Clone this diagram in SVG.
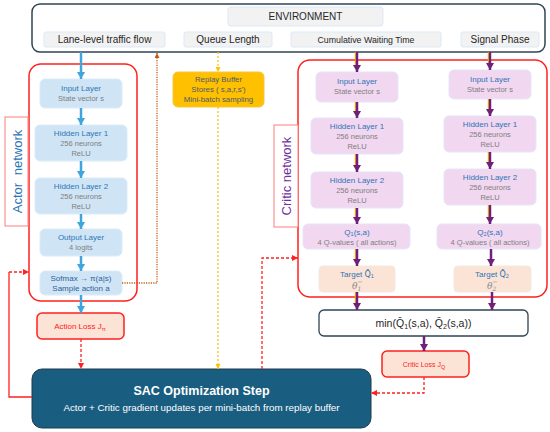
<svg xmlns="http://www.w3.org/2000/svg" width="550" height="432" viewBox="0 0 550 432">
<style>
text{font-family:"Liberation Sans",Arial,sans-serif}
.lbl{fill:#f2f2f2;stroke:#dbe9f6;stroke-width:1}
.lt{font-size:10px;fill:#262626;text-anchor:middle}
.ab{fill:#cfe5f5;stroke:#dcecf8;stroke-width:1}
.cb{fill:#f2d7f0;stroke:#e3e6f8;stroke-width:1}
.tb{fill:#fbe4d5;stroke:#f3e8e0;stroke-width:1}
.t1{font-size:8px;fill:#2e75b6;text-anchor:middle}
.t2{font-size:7.5px;fill:#808080;text-anchor:middle}
.th{font-size:9px;fill:#8a8a8a;font-style:italic;font-family:"DejaVu Serif","Liberation Serif",serif}
.red{fill:none;stroke:#ff1f1f;stroke-width:1.5}
.tab{fill:#fff;stroke:#ff7f7f;stroke-width:1}
.ba{stroke:#3ea5df;stroke-width:2.5;fill:none}
.pa{stroke:#70207a;stroke-width:2.5;fill:none}
.ga{stroke:#ffc000;stroke-width:1.5;fill:none}
.rd{stroke:#ff2020;stroke-width:1.3;fill:none;stroke-dasharray:3,2}
.loss{fill:#fbe4d6;stroke:#ff2020;stroke-width:1.5}
</style>
<defs>
<marker id="mb" markerUnits="userSpaceOnUse" markerWidth="9" markerHeight="8" refX="7" refY="4" orient="auto"><path d="M0,0 L7,4 L0,8 z" fill="#3ea5df"/></marker>
<marker id="mp" markerUnits="userSpaceOnUse" markerWidth="9" markerHeight="8" refX="7" refY="4" orient="auto"><path d="M0,0 L7,4 L0,8 z" fill="#70207a"/></marker>
<marker id="mr" markerUnits="userSpaceOnUse" markerWidth="7" markerHeight="6" refX="6" refY="3" orient="auto"><path d="M0,0 L6,3 L0,6 z" fill="#ff2020"/></marker>
<marker id="my" markerUnits="userSpaceOnUse" markerWidth="6" markerHeight="5" refX="5" refY="2.5" orient="auto"><path d="M0,0 L5,2.5 L0,5 z" fill="#ffc000"/></marker>
<marker id="mo" markerUnits="userSpaceOnUse" markerWidth="6" markerHeight="5" refX="5" refY="2.5" orient="auto"><path d="M0,0 L5,2.5 L0,5 z" fill="#c55a11"/></marker>
</defs>

<g id="environment">
<rect x="32" y="4" width="513" height="48" rx="8" fill="#fff" stroke="#2f4454" stroke-width="1.5"/>
<rect class="lbl" x="228" y="7" width="155" height="19" rx="3"/>
<text class="lt" x="305.5" y="20">ENVIRONMENT</text>
<rect class="lbl" x="44" y="32" width="121" height="15" rx="2"/>
<text class="lt" x="104.5" y="43">Lane-level traffic flow</text>
<rect class="lbl" x="184" y="32" width="88" height="15" rx="2"/>
<text class="lt" x="228" y="43">Queue Length</text>
<rect class="lbl" x="291" y="32" width="150" height="15" rx="2"/>
<text class="lt" x="366" y="42.5" style="font-size:8.8px">Cumulative Waiting Time</text>
<rect class="lbl" x="461" y="32" width="78" height="15" rx="2"/>
<text class="lt" x="500" y="43">Signal Phase</text>
</g>

<g id="actor-network">
<rect class="red" x="29" y="64" width="108" height="237" rx="12"/>
<rect class="tab" x="5" y="117" width="23" height="109"/>
<text x="17" y="171.5" transform="rotate(-90 17 171.5)" text-anchor="middle" dominant-baseline="central" style="font-size:13px;fill:#2e75b6;word-spacing:4px">Actor network</text>
</g>
<g id="actor-input"><rect class="ab" x="40" y="79" width="82" height="29" rx="5"/><text class="t1" x="81" y="91">Input Layer</text><text class="t2" x="81" y="101">State vector s</text></g>
<g id="actor-hidden1"><rect class="ab" x="35" y="125" width="92" height="36" rx="5"/><text class="t1" x="81" y="136">Hidden Layer 1</text><text class="t2" x="81" y="146">256 neurons</text><text class="t2" x="81" y="156">ReLU</text></g>
<g id="actor-hidden2"><rect class="ab" x="35" y="178" width="92" height="36" rx="5"/><text class="t1" x="81" y="189">Hidden Layer 2</text><text class="t2" x="81" y="199">256 neurons</text><text class="t2" x="81" y="209">ReLU</text></g>
<g id="actor-output"><rect class="ab" x="40" y="229" width="82" height="27" rx="5"/><text class="t1" x="81" y="240">Output Layer</text><text class="t2" x="81" y="250">4 logits</text></g>
<g id="actor-softmax"><rect class="ab" x="40" y="271" width="82" height="24" rx="5"/><text class="t1" x="81" y="281" style="fill:#2f5f9a">Sofmax → π(a|s)</text><text class="t1" x="81" y="291" style="fill:#2f5f9a">Sample action a</text></g>
<g id="action-loss"><rect class="loss" x="37" y="313" width="87" height="26" rx="5"/><text x="80" y="329" text-anchor="middle" style="font-size:8px;fill:#ff2020">Action Loss J<tspan style="font-size:6px" dy="2">π</tspan></text></g>

<g id="replay-buffer"><rect x="173" y="72" width="91" height="35" rx="5" fill="#ffc000" stroke="#f5c542" stroke-width="1"/>
<text x="218.5" y="82" text-anchor="middle" style="font-size:7.8px;fill:#4d5a6e">Replay Buffer</text>
<text x="218.5" y="92" text-anchor="middle" style="font-size:7.8px;fill:#4d5a6e">Stores ( s,a,r,s')</text>
<text x="218.5" y="102" text-anchor="middle" style="font-size:7.8px;fill:#4d5a6e">Mini-batch sampling</text></g>

<g id="critic-network">
<rect class="red" x="298" y="60" width="249" height="237" rx="12"/>
<rect class="tab" x="274" y="125" width="24" height="102"/>
<text x="286" y="176" transform="rotate(-90 286 176)" text-anchor="middle" dominant-baseline="central" style="font-size:13px;fill:#7030a0">Critic network</text>
</g>
<g id="critic1-input"><rect class="cb" x="316" y="72" width="82" height="30" rx="5"/><text class="t1" x="357" y="84">Input Layer</text><text class="t2" x="357" y="94">State vector s</text></g>
<g id="critic1-hidden1"><rect class="cb" x="311" y="118" width="92" height="36" rx="5"/><text class="t1" x="357" y="129">Hidden Layer 1</text><text class="t2" x="357" y="139">256 neurons</text><text class="t2" x="357" y="149">ReLU</text></g>
<g id="critic1-hidden2"><rect class="cb" x="311" y="172" width="92" height="36" rx="5"/><text class="t1" x="357" y="183">Hidden Layer 2</text><text class="t2" x="357" y="193">256 neurons</text><text class="t2" x="357" y="203">ReLU</text></g>
<g id="critic1-q"><rect class="cb" x="303" y="224" width="107" height="25" rx="5"/><text class="t1" x="357" y="235">Q<tspan style="font-size:5.5px" dy="1">1</tspan><tspan dy="-1">(s,a)</tspan></text><text class="t2" x="357" y="245">4 Q-values ( all actions)</text></g>
<g id="critic1-target"><rect class="tb" x="319" y="266" width="76" height="26" rx="4"/><text class="t1" x="357" y="277">Target <tspan style="font-family:'DejaVu Sans',sans-serif">Q̄</tspan><tspan style="font-size:5.5px" dy="1">1</tspan></text><text class="th" x="352" y="288.5">θ<tspan style="font-size:6px" dy="2">1</tspan><tspan style="font-size:6.5px;font-style:normal" dx="-4" dy="-6.5">−</tspan></text></g>

<g id="critic2-input"><rect class="cb" x="449" y="70" width="82" height="29" rx="5"/><text class="t1" x="490" y="82">Input Layer</text><text class="t2" x="490" y="92">State vector s</text></g>
<g id="critic2-hidden1"><rect class="cb" x="444" y="116" width="92" height="36" rx="5"/><text class="t1" x="490" y="127">Hidden Layer 1</text><text class="t2" x="490" y="137">256 neurons</text><text class="t2" x="490" y="147">ReLU</text></g>
<g id="critic2-hidden2"><rect class="cb" x="444" y="169" width="92" height="36" rx="5"/><text class="t1" x="490" y="180">Hidden Layer 2</text><text class="t2" x="490" y="190">256 neurons</text><text class="t2" x="490" y="200">ReLU</text></g>
<g id="critic2-q"><rect class="cb" x="437" y="224" width="104" height="25" rx="5"/><text class="t1" x="490" y="235">Q<tspan style="font-size:5.5px" dy="1">2</tspan><tspan dy="-1">(s,a)</tspan></text><text class="t2" x="490" y="245">4 Q-values ( all actions)</text></g>
<g id="critic2-target"><rect class="tb" x="454" y="266" width="77" height="26" rx="4"/><text class="t1" x="492" y="277">Target <tspan style="font-family:'DejaVu Sans',sans-serif">Q̄</tspan><tspan style="font-size:5.5px" dy="1">2</tspan></text><text class="th" x="487" y="288.5">θ<tspan style="font-size:6px" dy="2">2</tspan><tspan style="font-size:6.5px;font-style:normal" dx="-4" dy="-6.5">−</tspan></text></g>

<g id="min-q"><rect x="319" y="310" width="209" height="26" rx="5" fill="#fff" stroke="#2f4454" stroke-width="1.3"/>
<text x="423.5" y="327" text-anchor="middle" style="font-size:10.5px;fill:#262626">min(Q̄<tspan style="font-size:7px" dy="1.5">1</tspan><tspan dy="-1.5">(s,a), Q̄</tspan><tspan style="font-size:7px" dy="1.5">2</tspan><tspan dy="-1.5">(s,a))</tspan></text></g>

<g id="critic-loss"><rect class="loss" x="382" y="351" width="87" height="26" rx="5"/><text x="424" y="367" text-anchor="middle" style="font-size:7px;fill:#ff2020">Critic Loss J<tspan style="font-size:5.5px" dy="2">Q</tspan></text></g>

<g id="sac-step"><rect x="32" y="369" width="339" height="59" rx="10" fill="#195e80" stroke="#1f3b4d" stroke-width="1"/>
<text x="201.5" y="395" text-anchor="middle" style="font-size:12.5px;font-weight:bold;fill:#fff">SAC Optimization Step</text>
<text x="201.5" y="411" text-anchor="middle" style="font-size:9.8px;fill:#fff">Actor + Critic gradient updates per mini-batch from replay buffer</text></g>

<g id="connectors">
<line class="ba" x1="81" y1="52" x2="81" y2="79" marker-end="url(#mb)"/>
<line class="ba" x1="81" y1="108" x2="81" y2="125" marker-end="url(#mb)"/>
<line class="ba" x1="81" y1="161" x2="81" y2="178" marker-end="url(#mb)"/>
<line class="ba" x1="81" y1="214" x2="81" y2="229" marker-end="url(#mb)"/>
<line class="ba" x1="81" y1="256" x2="81" y2="271" marker-end="url(#mb)"/>
<line class="ba" x1="81" y1="295" x2="81" y2="313" marker-end="url(#mb)"/>
<polyline points="122,283 157,283 157,53" fill="none" stroke="#c55a11" stroke-width="1.3" stroke-dasharray="1.2,1.2" marker-end="url(#mo)"/>
<line x1="218" y1="52" x2="218" y2="72" stroke="#ffc000" stroke-width="1.2" stroke-dasharray="2,2" marker-end="url(#my)"/>
<line x1="218" y1="107" x2="218" y2="369" stroke="#ffc000" stroke-width="1.2" stroke-dasharray="2,2" marker-end="url(#my)"/>
<line class="rd" x1="81" y1="339" x2="81" y2="369" marker-end="url(#mr)"/>
<polyline points="32,397 9,397 9,272" fill="none" stroke="#ff2020" stroke-width="1.3"/>
<line class="rd" x1="9" y1="272" x2="29" y2="272" marker-end="url(#mr)"/>
<polyline class="rd" points="262,369 262,258 298,258" marker-end="url(#mr)"/>
<polyline class="rd" points="424,377 424,393 371,393" marker-end="url(#mr)"/>
<g>
<line class="ga" x1="355.5" y1="52" x2="355.5" y2="66"/><line class="pa" x1="357" y1="52" x2="357" y2="72" marker-end="url(#mp)"/>
<line class="ga" x1="355.5" y1="102" x2="355.5" y2="112"/><line class="pa" x1="357" y1="102" x2="357" y2="118" marker-end="url(#mp)"/>
<line class="ga" x1="355.5" y1="154" x2="355.5" y2="166"/><line class="pa" x1="357" y1="154" x2="357" y2="172" marker-end="url(#mp)"/>
<line class="ga" x1="355.5" y1="208" x2="355.5" y2="218"/><line class="pa" x1="357" y1="208" x2="357" y2="224" marker-end="url(#mp)"/>
<line class="ga" x1="355.5" y1="249" x2="355.5" y2="260"/><line class="pa" x1="357" y1="249" x2="357" y2="266" marker-end="url(#mp)"/>
<line class="ga" x1="355.5" y1="292" x2="355.5" y2="304"/><line class="pa" x1="357" y1="292" x2="357" y2="310" marker-end="url(#mp)"/>
<line class="ga" x1="488.5" y1="52" x2="488.5" y2="64"/><line class="pa" x1="490" y1="52" x2="490" y2="70" marker-end="url(#mp)"/>
<line class="ga" x1="488.5" y1="99" x2="488.5" y2="110"/><line class="pa" x1="490" y1="99" x2="490" y2="116" marker-end="url(#mp)"/>
<line class="ga" x1="488.5" y1="152" x2="488.5" y2="163"/><line class="pa" x1="490" y1="152" x2="490" y2="169" marker-end="url(#mp)"/>
<line class="ga" x1="488.5" y1="205" x2="488.5" y2="218"/><line class="pa" x1="490" y1="205" x2="490" y2="224" marker-end="url(#mp)"/>
<line class="pa" x1="491" y1="249" x2="491" y2="266" marker-end="url(#mp)"/>
<line class="pa" x1="492" y1="292" x2="492" y2="310" marker-end="url(#mp)"/>
<line class="pa" x1="424" y1="336" x2="424" y2="351" marker-end="url(#mp)"/>
</g>
</g>
</svg>
